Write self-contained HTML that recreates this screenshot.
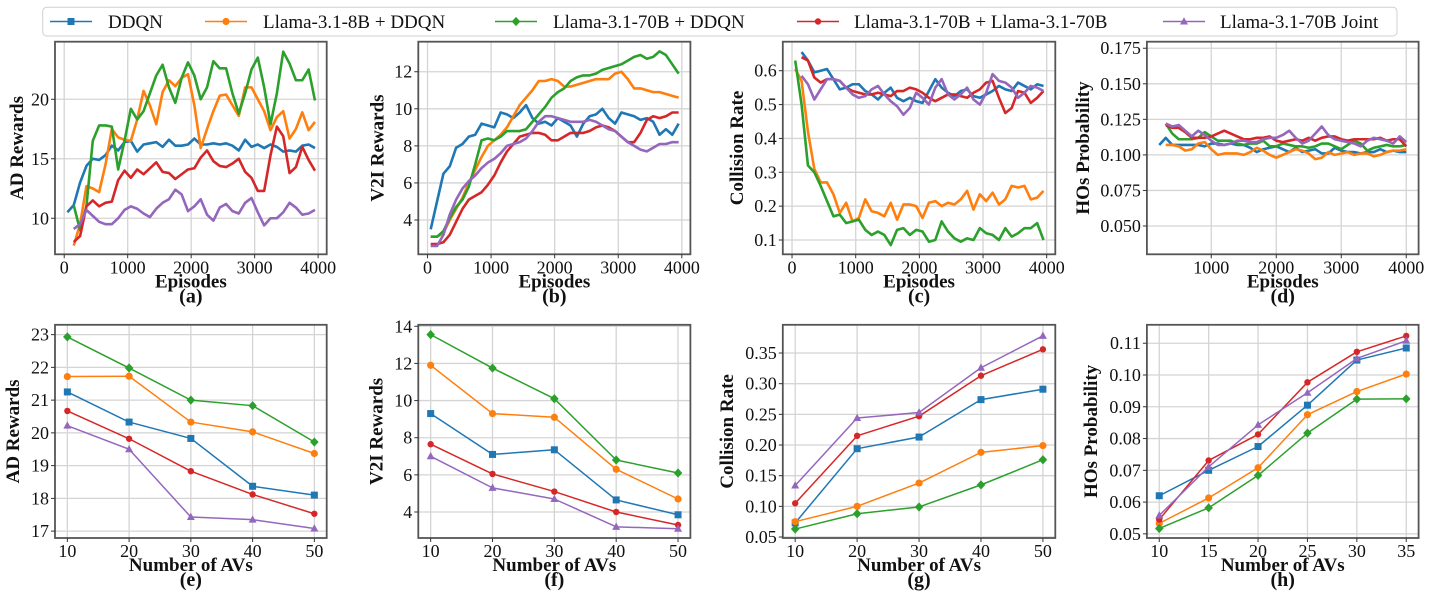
<!DOCTYPE html>
<html><head><meta charset="utf-8">
<style>
html,body{margin:0;padding:0;background:#fff;}
svg{display:block;font-family:"Liberation Serif","DejaVu Serif",serif;}
svg text{font-family:"Liberation Serif","DejaVu Serif",serif;}
</style></head>
<body>
<svg id="fig" width="1440" height="593" viewBox="0 0 1440 593" xmlns="http://www.w3.org/2000/svg">
<g id="legend"></g>
</svg>
<script>
const seriesNames = ["DDQN","Llama-3.1-8B + DDQN","Llama-3.1-70B + DDQN","Llama-3.1-70B + Llama-3.1-70B","Llama-3.1-70B Joint"];
const eps50 = [50,150,250,350,450,550,650,750,850,950,1050,1150,1250,1350,1450,1550,1650,1750,1850,1950,2050,2150,2250,2350,2450,2550,2650,2750,2850,2950,3050,3150,3250,3350,3450,3550,3650,3750,3850,3950];
const eps200 = [200,300,400,500,600,700,800,900,1000,1100,1200,1300,1400,1500,1600,1700,1800,1900,2000,2100,2200,2300,2400,2500,2600,2700,2800,2900,3000,3100,3200,3300,3400,3500,3600,3700,3800,3900,4000];
const avs5 = [10,20,30,40,50];
const avs6 = [10,15,20,25,30,35];

const aBlue = [10.5,11.1,13,14.4,15,14.9,15.3,16.1,15.7,16.4,16.5,15.6,16.2,16.3,16.4,16.0,16.6,16.1,16.1,16.2,16.7,16.2,16.2,16.3,16.2,16.3,16.1,15.7,16.6,16.0,16.2,15.9,16.2,16.0,15.6,15.7,15.6,16.1,16.2,15.9];
const aOrange = [null,7.7,9.5,12.7,12.5,12.2,14.5,17.5,16.8,16.6,16.5,18.3,20.7,19.5,17.9,20.6,21.6,21.1,21.8,22.1,19.5,15.9,17.5,19.0,20.3,20.4,19.5,18.6,21.0,21.0,20.0,19.0,17.4,18.5,19.0,16.7,17.5,18.9,17.4,18.1];
const aGreen = [null,11.1,9.0,11.0,16.5,17.8,17.8,17.7,14.1,16.5,19.2,18.3,19.0,20.5,22.0,22.9,21.0,19.7,21.8,23.1,22.0,20.0,21.0,23.2,22.6,22.6,20.5,18.8,20.5,22.5,23.5,21.0,17.9,20.5,24.0,23.0,21.6,21.6,22.5,19.9];
const aRed = [null,8.0,8.5,11.0,11.5,11.0,11.3,11.4,13.2,14.0,13.4,14.1,13.7,14.2,14.7,13.9,13.8,13.3,13.7,14.1,14.2,15.1,15.7,14.8,14.4,14.3,14.6,15.0,13.9,13.4,12.3,12.3,15.3,17.7,16.9,13.8,14.3,16.0,14.9,14.0];
const aPurple = [null,9.1,9.5,10.7,10.2,9.7,9.5,9.5,10.0,10.7,11.0,10.8,10.4,10.1,10.8,11.3,11.6,12.4,12.0,10.6,11.0,11.6,10.3,9.8,10.9,11.2,10.6,10.4,11.3,11.7,10.5,9.4,10.0,10.0,10.5,11.3,10.9,10.3,10.4,10.7];
const bBlue = [3.5,5.0,6.5,6.9,7.9,8.1,8.5,8.6,9.2,9.1,9.0,9.8,9.7,9.5,9.8,10.2,9.5,9.2,9.3,9.1,9.5,9.3,9.1,8.5,9.2,9.6,9.7,10.0,9.5,9.2,9.8,9.7,9.6,9.4,9.5,9.3,8.6,8.9,8.6,9.2];
const bOrange = [3.1,3.1,3.3,4.0,4.6,5.2,6.0,6.7,7.4,8.0,8.3,8.6,9.0,9.6,10.2,10.6,11.0,11.5,11.5,11.6,11.5,11.2,11.2,11.3,11.4,11.5,11.6,11.6,11.6,11.9,12.0,11.6,11.1,11.1,11.0,10.9,10.9,10.8,10.7,10.6];
const bGreen = [3.1,3.1,3.4,4.1,4.7,5.1,5.8,7.0,8.3,8.4,8.3,8.5,8.8,8.8,8.8,8.9,9.3,9.7,10.1,10.6,10.9,11.1,11.5,11.7,11.8,11.8,11.9,12.1,12.2,12.3,12.4,12.6,12.8,12.9,12.7,12.8,13.1,12.9,12.4,11.9];
const bRed = [2.7,2.7,2.8,3.2,3.9,4.6,5.1,5.3,5.5,5.9,6.4,7.1,7.7,8.1,8.5,8.6,8.7,8.7,8.6,8.3,8.3,8.5,8.7,8.7,8.7,8.8,9.0,9.1,9.0,8.8,8.5,8.2,8.2,8.7,9.4,9.6,9.5,9.6,9.8,9.8];
const bPurple = [2.6,2.6,3.2,4.3,5.1,5.7,6.1,6.4,6.8,7.1,7.3,7.6,8.0,8.1,8.2,8.4,8.8,9.3,9.6,9.6,9.5,9.4,9.3,9.3,9.3,9.4,9.3,9.1,8.9,8.8,8.5,8.2,8.0,7.8,7.7,7.9,8.1,8.1,8.2,8.2];
const cBlue = [null,.655,.63,.595,.60,.605,.575,.545,.55,.56,.56,.54,.53,.515,.535,.55,.52,.51,.52,.51,.505,.54,.575,.55,.535,.525,.54,.545,.525,.52,.53,.54,.555,.545,.54,.565,.555,.545,.56,.555];
const cOrange = [.605,.57,.42,.31,.27,.27,.235,.18,.21,.155,.165,.22,.185,.18,.17,.21,.16,.205,.205,.20,.165,.21,.215,.20,.21,.205,.22,.245,.19,.235,.215,.24,.205,.22,.26,.255,.26,.22,.225,.245];
const cGreen = [.63,.50,.32,.30,.26,.215,.17,.175,.15,.155,.16,.13,.115,.125,.115,.085,.13,.135,.115,.13,.125,.095,.10,.155,.125,.105,.095,.105,.10,.135,.12,.115,.10,.135,.11,.12,.135,.135,.15,.10];
const cRed = [null,.64,.63,.58,.565,.575,.575,.57,.55,.54,.535,.53,.53,.535,.53,.525,.54,.54,.55,.545,.535,.52,.51,.52,.53,.53,.525,.52,.535,.545,.565,.57,.52,.475,.49,.54,.535,.505,.52,.54];
const cPurple = [null,.585,.56,.515,.545,.575,.575,.57,.55,.53,.52,.525,.545,.555,.53,.51,.495,.47,.49,.535,.52,.50,.55,.575,.53,.515,.53,.55,.515,.50,.535,.59,.57,.565,.55,.52,.535,.555,.55,.54];
const dBlue = [.107,.112,.107,.107,.107,.107,.107,.106,.108,.108,.107,.108,.107,.107,.105,.102,.104,.105,.106,.104,.102,.105,.102,.103,.104,.101,.101,.105,.103,.102,.102,.101,.102,.102,.104,.102,.103,.102,.102];
const dOrange = [null,.107,.107,.106,.103,.104,.108,.109,.104,.100,.101,.101,.101,.100,.102,.105,.103,.100,.098,.100,.102,.104,.103,.101,.097,.098,.102,.100,.101,.102,.100,.101,.101,.099,.100,.102,.103,.103,.104];
const dGreen = [null,.122,.115,.111,.111,.111,.112,.116,.113,.110,.110,.110,.108,.107,.108,.108,.110,.106,.106,.108,.107,.106,.106,.105,.106,.108,.108,.106,.104,.107,.110,.108,.103,.105,.106,.107,.106,.106,.107];
const dRed = [null,.121,.119,.119,.116,.112,.112,.112,.113,.115,.117,.115,.113,.111,.111,.112,.112,.113,.110,.109,.110,.111,.110,.112,.110,.112,.113,.113,.111,.110,.111,.111,.111,.111,.112,.110,.111,.111,.106];
const dPurple = [null,.122,.120,.121,.117,.113,.117,.114,.110,.107,.107,.108,.110,.110,.109,.109,.111,.112,.112,.114,.117,.112,.108,.110,.115,.120,.114,.111,.110,.109,.108,.106,.110,.112,.111,.110,.108,.113,.109];
const eBlue=[21.25,20.33,19.83,18.37,18.1], eOrange=[21.72,21.73,20.33,20.03,19.37], eGreen=[22.93,21.98,21.0,20.83,19.72], eRed=[20.67,19.82,18.83,18.12,17.53], ePurple=[20.22,19.5,17.43,17.35,17.08];
const fBlue=[9.3,7.1,7.35,4.65,3.85], fOrange=[11.9,9.3,9.1,6.3,4.7], fGreen=[13.55,11.75,10.1,6.8,6.1], fRed=[7.65,6.05,5.1,4.0,3.3], fPurple=[7.0,5.3,4.7,3.2,3.1];
const gBlue=[.073,.194,.213,.274,.291], gOrange=[.075,.100,.138,.188,.199], gGreen=[.063,.088,.099,.135,.176], gRed=[.105,.215,.247,.313,.356], gPurple=[.134,.244,.253,.326,.378];
const hBlue=[.062,.070,.0775,.0905,.1047,.1085], hOrange=[.0533,.0613,.0708,.0875,.0948,.1003], hGreen=[.0517,.0582,.0684,.0817,.0924,.0925], hRed=[.0545,.0731,.0813,.0977,.1073,.1123], hPurple=[.0558,.0711,.0843,.0944,.1052,.1108];

const ticksEp = [0,1000,2000,3000,4000], ticksEpD=[1000,2000,3000,4000];
const ticksA=[10,15,20], ticksB=[4,6,8,10,12], ticksC=[0.1,0.2,0.3,0.4,0.5,0.6], ticksD=[0.05,0.075,0.1,0.125,0.15,0.175];
const ticksE=[17,18,19,20,21,22,23], ticksF=[4,6,8,10,12,14], ticksG=[0.05,0.1,0.15,0.2,0.25,0.3,0.35], ticksH=[0.05,0.06,0.07,0.08,0.09,0.1,0.11];
const labA=["10","15","20"], labB=["4","6","8","10","12"], labC=["0.1","0.2","0.3","0.4","0.5","0.6"], labD=["0.050","0.075","0.100","0.125","0.150","0.175"];
const labE=["17","18","19","20","21","22","23"], labF=["4","6","8","10","12","14"], labG=["0.05","0.10","0.15","0.20","0.25","0.30","0.35"], labH=["0.05","0.06","0.07","0.08","0.09","0.10","0.11"];

const colors=["#1f77b4","#ff7f0e","#2ca02c","#d62728","#9467bd"];
const markers=["square","circle","diamond","dot","triangle"];
const FF='"Liberation Serif","DejaVu Serif",serif';
const NS="http://www.w3.org/2000/svg";
const svg=document.getElementById('fig');
function mk(tag,attrs,parent){const e=document.createElementNS(NS,tag);for(const k in attrs)e.setAttribute(k,attrs[k]);if(tag==='text')e.setAttribute('font-family',FF);(parent||svg).appendChild(e);return e;}

function marker(g,type,x,y,c){
  let m;
  if(type==="square"){m=mk('rect',{x:x-3.5,y:y-3.5,width:7,height:7,fill:c},g);}
  else if(type==="circle"){m=mk('circle',{cx:x,cy:y,r:3.6,fill:c},g);}
  else if(type==="dot"){m=mk('circle',{cx:x,cy:y,r:3.2,fill:c},g);}
  else if(type==="diamond"){m=mk('polygon',{points:`${x},${y-4.6} ${x+4.3},${y} ${x},${y+4.6} ${x-4.3},${y}`,fill:c},g);}
  else {m=mk('polygon',{points:`${x},${y-4.3} ${x+4},${y+3} ${x-4},${y+3}`,fill:c},g);}
  
  
}

function panel(p){
  const g=mk('g',{});
  
  
  const sx=v=>p.x0+(v-p.xmin)/(p.xmax-p.xmin)*(p.x1-p.x0);
  const sy=v=>p.y1-(v-p.ymin)/(p.ymax-p.ymin)*(p.y1-p.y0);
  p.xt.forEach(t=>{const l=mk('line',{x1:sx(t),x2:sx(t),y1:p.y0,y2:p.y1,stroke:'#d4d4d4','stroke-width':1.3},g);
    });
  p.yt.forEach(t=>{const l=mk('line',{x1:p.x0,x2:p.x1,y1:sy(t),y2:sy(t),stroke:'#d4d4d4','stroke-width':1.3},g);
    });
  p.series.forEach((s,i)=>{
    const sg=mk('g',{},g);
    
    
    let d='';let first=true;
    s.forEach((v,j)=>{if(v===null||v===undefined)return;d+=(first?'M':'L')+sx(p.xs[j]).toFixed(2)+','+sy(v).toFixed(2);first=false;});
    const path=mk('path',{d:d,fill:'none',stroke:colors[i],'stroke-width':p.lw,'stroke-linejoin':'round'},sg);
    
    
    if(p.markers){s.forEach((v,j)=>{if(v!==null)marker(sg,markers[i],sx(p.xs[j]),sy(v),colors[i]);});}
  });
  const fr=mk('rect',{x:p.x0,y:p.y0,width:p.x1-p.x0,height:p.y1-p.y0,fill:'none',stroke:'#555','stroke-width':1.8},g);
  
  p.xt.forEach((t,k)=>{
    const tl=mk('line',{x1:sx(t),x2:sx(t),y1:p.y1,y2:p.y1+4,stroke:'#333','stroke-width':1},g);
    
    const tx=mk('text',{x:sx(t),y:p.y1+19,'text-anchor':'middle','font-size':18,fill:'#111'},g);
    tx.textContent=p.xl[k];
    
  });
  p.yt.forEach((t,k)=>{
    const tl=mk('line',{x1:p.x0-4,x2:p.x0,y1:sy(t),y2:sy(t),stroke:'#333','stroke-width':1},g);
    
    const tx=mk('text',{x:p.x0-6,y:sy(t)+6,'text-anchor':'end','font-size':18,fill:'#111'},g);
    tx.textContent=p.yl[k];
    
  });
  const cx=(p.x0+p.x1)/2;
  const xt=mk('text',{x:cx,y:p.y1+33,'text-anchor':'middle','font-size':19,'font-weight':'bold',fill:'#111'},g);
  xt.textContent=p.xtitle;
  const cap=mk('text',{x:cx,y:p.y1+48,'text-anchor':'middle','font-size':20,'font-weight':'bold',fill:'#111'},g);
  cap.textContent='('+p.id+')';
  const yc=(p.y0+p.y1)/2;const yx=p.x0-p.yoff;
  const yt=mk('text',{x:yx,y:yc,'text-anchor':'middle','font-size':19,'font-weight':'bold',fill:'#111',transform:`rotate(-90 ${yx} ${yc})`},g);
  yt.textContent=p.ytitle;
}

const cols=[[55,326.7],[418.3,690.4],[782.8,1055.3],[1146.9,1418.6]];
const TY=[41.7,254.3], BY=[324.8,538];
panel({id:'a',x0:cols[0][0],x1:cols[0][1],y0:TY[0],y1:TY[1],xmin:-145,xmax:4135,ymin:6.97,ymax:24.84,xs:eps50,series:[aBlue,aOrange,aGreen,aRed,aPurple],xt:ticksEp,xl:ticksEp.map(String),yt:ticksA,yl:labA,xtitle:'Episodes',ytitle:'AD Rewards',yoff:32,lw:2.6});
panel({id:'b',x0:cols[1][0],x1:cols[1][1],y0:TY[0],y1:TY[1],xmin:-145,xmax:4135,ymin:2.15,ymax:13.62,xs:eps50,series:[bBlue,bOrange,bGreen,bRed,bPurple],xt:ticksEp,xl:ticksEp.map(String),yt:ticksB,yl:labB,xtitle:'Episodes',ytitle:'V2I Rewards',yoff:35,lw:2.6});
panel({id:'c',x0:cols[2][0],x1:cols[2][1],y0:TY[0],y1:TY[1],xmin:-145,xmax:4135,ymin:0.0578,ymax:0.6857,xs:eps50,series:[cBlue,cOrange,cGreen,cRed,cPurple],xt:ticksEp,xl:ticksEp.map(String),yt:ticksC,yl:labC,xtitle:'Episodes',ytitle:'Collision Rate',yoff:40,lw:2.6});
panel({id:'d',x0:cols[3][0],x1:cols[3][1],y0:TY[0],y1:TY[1],xmin:10,xmax:4190,ymin:0.0301,ymax:0.1796,xs:eps200,series:[dBlue,dOrange,dGreen,dRed,dPurple],xt:ticksEpD,xl:ticksEpD.map(String),yt:ticksD,yl:labD,xtitle:'Episodes',ytitle:'HOs Probability',yoff:58,lw:2.6});
panel({id:'e',x0:cols[0][0],x1:cols[0][1],y0:BY[0],y1:BY[1],xmin:8,xmax:52,ymin:16.79,ymax:23.3,xs:avs5,series:[eBlue,eOrange,eGreen,eRed,ePurple],xt:avs5,xl:avs5.map(String),yt:ticksE,yl:labE,xtitle:'Number of AVs',ytitle:'AD Rewards',yoff:36,lw:1.5,markers:true});
panel({id:'f',x0:cols[1][0],x1:cols[1][1],y0:BY[0],y1:BY[1],xmin:8,xmax:52,ymin:2.6,ymax:14.08,xs:avs5,series:[fBlue,fOrange,fGreen,fRed,fPurple],xt:avs5,xl:avs5.map(String),yt:ticksF,yl:labF,xtitle:'Number of AVs',ytitle:'V2I Rewards',yoff:36,lw:1.5,markers:true});
panel({id:'g',x0:cols[2][0],x1:cols[2][1],y0:BY[0],y1:BY[1],xmin:8,xmax:52,ymin:0.0484,ymax:0.396,xs:avs5,series:[gBlue,gOrange,gGreen,gRed,gPurple],xt:avs5,xl:avs5.map(String),yt:ticksG,yl:labG,xtitle:'Number of AVs',ytitle:'Collision Rate',yoff:50,lw:1.5,markers:true});
panel({id:'h',x0:cols[3][0],x1:cols[3][1],y0:BY[0],y1:BY[1],xmin:8.75,xmax:36.25,ymin:0.0487,ymax:0.1158,xs:avs6,series:[hBlue,hOrange,hGreen,hRed,hPurple],xt:avs6,xl:avs6.map(String),yt:ticksH,yl:labH,xtitle:'Number of AVs',ytitle:'HOs Probability',yoff:50,lw:1.5,markers:true});

const lg=document.getElementById('legend');
svg.appendChild(lg);
const lbox=mk('rect',{x:42.7,y:7.3,width:1354.3,height:28.7,rx:4,fill:'#fff',stroke:'#d0d0d0','stroke-width':1},lg);


const hx=[50,205,495,797,1163], tx=[108,263,553,854,1220];
seriesNames.forEach((n,i)=>{
  const eg=mk('g',{},lg);
  
  
  mk('line',{x1:hx[i],x2:hx[i]+42,y1:21.5,y2:21.5,stroke:colors[i],'stroke-width':1.6},eg);
  marker(eg,markers[i],hx[i]+21,21.5,colors[i]);
  const t=mk('text',{x:tx[i],y:28,'font-size':19,fill:'#111'},eg);
  t.textContent=n;
  
  
});
</script>
</body></html>
